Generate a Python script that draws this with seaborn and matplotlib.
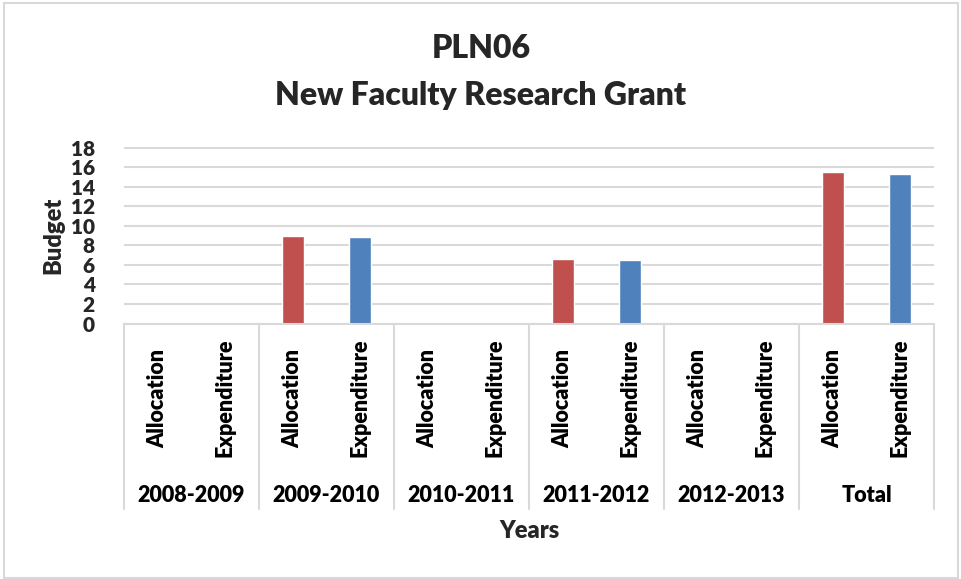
import matplotlib
matplotlib.use("Agg")
import matplotlib.pyplot as plt
import matplotlib.transforms as mtransforms
from matplotlib.patches import Rectangle
import pandas as pd
import seaborn as sns

# Budget figures per fiscal year
years = ["2008-2009", "2009-2010", "2010-2011", "2011-2012", "2012-2013", "Total"]
measures = ["Allocation", "Expenditure"]
allocation = [0, 9.0, 0, 6.55, 0, 15.5]
expenditure = [0, 8.8, 0, 6.45, 0, 15.3]
y_ticks = [0, 2, 4, 6, 8, 10, 12, 14, 16, 18]

colors = {"Allocation": "#C0504D", "Expenditure": "#4F81BD"}

rows = []
for yr, a, e in zip(years, allocation, expenditure):
    rows.append({"slot": f"{yr}|Allocation", "year": yr, "measure": "Allocation", "value": a})
    rows.append({"slot": f"{yr}|Expenditure", "year": yr, "measure": "Expenditure", "value": e})
df = pd.DataFrame(rows)
order = list(df["slot"])

sns.set_theme(style="white")
plt.rcParams["font.family"] = ["Lato", "DejaVu Sans"]
WEIGHT = "heavy"

W, H = 962, 579
fig = plt.figure(figsize=(W / 100, H / 100), dpi=100)

# light frame around the chart area
fig.patches.append(Rectangle((4 / W, 1 / H), (958 - 4) / W, (576 - 1) / H,
                             transform=fig.transFigure, fill=False,
                             edgecolor="#d9d9d9", linewidth=1.5))

ax_l, ax_r, ax_t, ax_b = 124, 934, 147.5, 323.5
ax = fig.add_axes([ax_l / W, 1 - ax_b / H, (ax_r - ax_l) / W, (ax_b - ax_t) / H])

sns.barplot(data=df, x="slot", y="value", hue="measure", order=order,
            palette=colors, dodge=False, width=0.33, legend=False,
            saturation=1, ax=ax)

ax.set_ylim(0, 18)
ax.set_xlim(-0.5, len(order) - 0.5)
ax.set_yticks(y_ticks)
ax.set_yticklabels([str(t) for t in y_ticks], fontsize=15, fontweight=WEIGHT)
ax.tick_params(axis="y", length=0, pad=21)
ax.set_xticks([])
ax.set_xlabel("")
ax.set_ylabel("Budget", fontsize=17, fontweight=WEIGHT)
ax.yaxis.set_label_coords(-(ax_l - 64) / (ax_r - ax_l), 0.5)
ax.grid(axis="y", color="#d9d9d9", linewidth=1.5)
ax.set_axisbelow(True)
for s in ["left", "right", "top"]:
    ax.spines[s].set_visible(False)
ax.spines["bottom"].set_color("#d9d9d9")
ax.spines["bottom"].set_linewidth(1.5)

# two-level category axis drawn beneath the plot
blend = mtransforms.blended_transform_factory(ax.transData, fig.transFigure)
sep_top, sep_bot = 1 - ax_b / H, 1 - 509 / H
for k in range(len(years) + 1):
    xs = 2 * k - 0.5
    ax.plot([xs, xs], [sep_top, sep_bot], transform=blend, color="#d9d9d9",
            linewidth=1.5, clip_on=False)

for i, slot in enumerate(order):
    measure = slot.split("|")[1]
    ax.text(i, 1 - 398 / H, measure, transform=blend, rotation=90,
            ha="center", va="center", fontsize=15.5, fontweight=WEIGHT, color="black")

for k, yr in enumerate(years):
    ax.text(2 * k + 0.5, 1 - 495 / H, yr, transform=blend, ha="center",
            va="center", fontsize=15.5, fontweight=WEIGHT, color="black")

fig.text((ax_l + ax_r) / 2 / W, 1 - 531 / H, "Years", ha="center", va="center",
         fontsize=17, fontweight=WEIGHT)

fig.text(0.5, 1 - 48 / H, "PLN06", ha="center", va="center",
         fontsize=23, fontweight=WEIGHT)
fig.text(0.5, 1 - 95 / H, "New Faculty Research Grant", ha="center", va="center",
         fontsize=23, fontweight=WEIGHT)

fig.savefig("out.png", dpi=100, facecolor="white")
